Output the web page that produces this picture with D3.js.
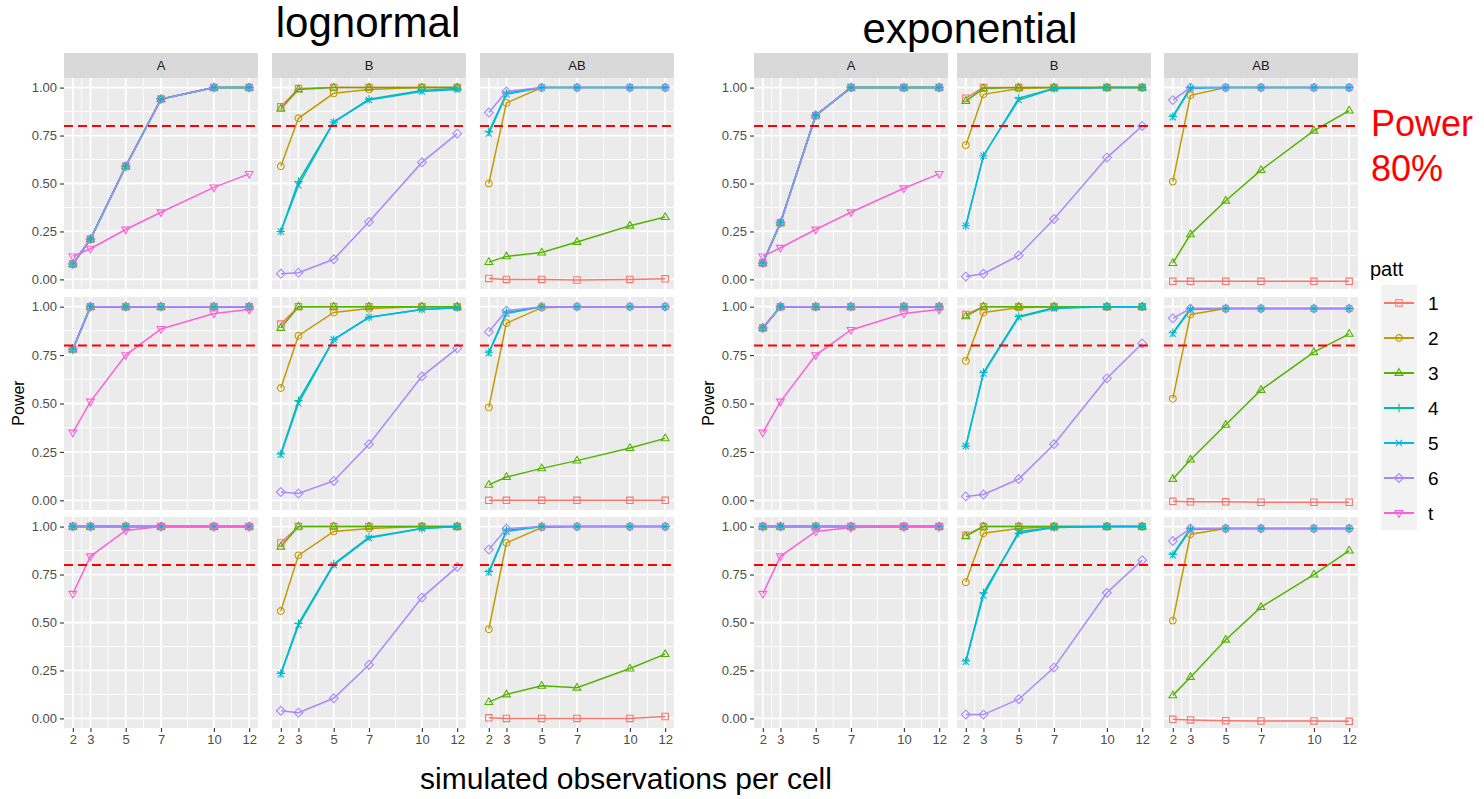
<!DOCTYPE html>
<html>
<head>
<meta charset="utf-8">
<script src="https://cdn.jsdelivr.net/npm/d3@7"></script>
<style>
body { margin: 0; background: #fff; }
text { font-family: "Liberation Sans", Arial, sans-serif; }
</style>
</head>
<body>
<div id="graphic"></div>
<script>
// x values, patterns, colours
const xValues = [2, 3, 5, 7, 10, 12];
const xMinor = [2.5, 4, 6, 8.5, 11];
const yTicks = [0, 0.25, 0.5, 0.75, 1];
const yMinor = [0.125, 0.375, 0.625, 0.875];
const patterns = ["1", "2", "3", "4", "5", "6", "t"];
const pattColors = ["#F8766D", "#C49A00", "#53B400", "#00C094", "#00B6EB", "#A58AFF", "#FB61D7"];
const pattShapes = ["square", "circle", "triangle", "plus", "cross", "diamond", "triangleDown"];
const facetCols = ["A", "B", "AB"];
const dists = ["lognormal", "exponential"];
const target = 0.8;

// ---- lognormal ----
const lnA1_all = [0.08, 0.21, 0.59, 0.94, 1.0, 1.0];
const lnA1_t = [0.12, 0.16, 0.26, 0.35, 0.48, 0.55];
const lnB1 = {
  1: [0.90, 0.995, 1, 1, 1, 1], 2: [0.59, 0.84, 0.97, 0.99, 1, 1], 3: [0.89, 0.99, 1, 1, 1, 1],
  4: [0.25, 0.51, 0.82, 0.94, 0.985, 0.995], 5: [0.25, 0.49, 0.82, 0.935, 0.98, 0.99],
  6: [0.03, 0.035, 0.105, 0.30, 0.61, 0.76]
};
const lnAB1 = {
  1: [0.005, 0, 0, -0.003, 0, 0.003], 2: [0.50, 0.92, 1, 1, 1, 1], 3: [0.09, 0.12, 0.14, 0.195, 0.28, 0.325],
  4: [0.77, 0.97, 1, 1, 1, 1], 5: [0.76, 0.965, 1, 1, 1, 1], 6: [0.87, 0.98, 1, 1, 1, 1]
};
const lnA2_all = [0.78, 1, 1, 1, 1, 1];
const lnA2_t = [0.35, 0.51, 0.75, 0.885, 0.965, 0.985];
const lnB2 = {
  1: [0.91, 1, 1, 1, 1, 1], 2: [0.58, 0.85, 0.97, 0.99, 1, 1], 3: [0.89, 1, 1, 1, 1, 1],
  4: [0.24, 0.515, 0.83, 0.945, 0.985, 0.995], 5: [0.235, 0.50, 0.83, 0.945, 0.985, 0.995],
  6: [0.043, 0.035, 0.10, 0.29, 0.64, 0.785]
};
const lnAB2 = {
  1: [0, 0, 0, 0, 0, 0], 2: [0.48, 0.915, 0.995, 1, 1, 1], 3: [0.08, 0.12, 0.165, 0.205, 0.27, 0.32],
  4: [0.765, 0.97, 1, 1, 1, 1], 5: [0.76, 0.965, 1, 1, 1, 1], 6: [0.87, 0.98, 1, 1, 1, 1]
};
const lnA3_all = [1, 1, 1, 1, 1, 1];
const lnA3_t = [0.65, 0.845, 0.98, 1, 1, 1];
const lnB3 = {
  1: [0.915, 1, 1, 1, 1, 1], 2: [0.56, 0.85, 0.975, 0.99, 1, 1], 3: [0.895, 1, 1, 1, 1, 1],
  4: [0.235, 0.495, 0.805, 0.945, 0.99, 1], 5: [0.23, 0.485, 0.80, 0.94, 0.99, 1],
  6: [0.04, 0.03, 0.105, 0.28, 0.63, 0.79]
};
const lnAB3 = {
  1: [0.003, 0, 0, 0, 0, 0.01], 2: [0.465, 0.915, 0.995, 1, 1, 1], 3: [0.085, 0.125, 0.17, 0.16, 0.26, 0.335],
  4: [0.765, 0.98, 1, 1, 1, 1], 5: [0.76, 0.975, 1, 1, 1, 1], 6: [0.88, 0.99, 1, 1, 1, 1]
};

// ---- exponential ----
const exA1_all = [0.085, 0.295, 0.855, 1, 1, 1];
const exA1_t = [0.12, 0.165, 0.26, 0.35, 0.475, 0.55];
const exB1 = {
  1: [0.945, 1, 1, 1, 1, 1], 2: [0.70, 0.965, 0.995, 1, 1, 1], 3: [0.93, 0.995, 1, 1, 1, 1],
  4: [0.28, 0.645, 0.945, 0.995, 1, 1], 5: [0.28, 0.645, 0.935, 0.995, 1, 1],
  6: [0.015, 0.03, 0.125, 0.315, 0.635, 0.80]
};
const exAB1 = {
  1: [-0.01, -0.01, -0.01, -0.01, -0.01, -0.01], 2: [0.51, 0.96, 1, 1, 1, 1], 3: [0.085, 0.235, 0.41, 0.57, 0.775, 0.88],
  4: [0.85, 1, 1, 1, 1, 1], 5: [0.845, 0.995, 1, 1, 1, 1], 6: [0.935, 1, 1, 1, 1, 1]
};
const exA2_all = [0.89, 1, 1, 1, 1, 1];
const exA2_t = [0.35, 0.51, 0.75, 0.88, 0.965, 0.985];
const exB2 = {
  1: [0.96, 1, 1, 1, 1, 1], 2: [0.72, 0.97, 0.995, 1, 1, 1], 3: [0.95, 1, 1, 1, 1, 1],
  4: [0.28, 0.66, 0.95, 0.995, 1, 1], 5: [0.28, 0.655, 0.945, 0.99, 1, 1],
  6: [0.02, 0.03, 0.11, 0.29, 0.63, 0.81]
};
const exAB2 = {
  1: [-0.005, -0.008, -0.008, -0.01, -0.01, -0.01], 2: [0.525, 0.96, 0.99, 0.99, 0.99, 0.99], 3: [0.11, 0.21, 0.39, 0.57, 0.765, 0.86],
  4: [0.865, 0.99, 0.99, 0.99, 0.99, 0.99], 5: [0.86, 0.985, 0.99, 0.99, 0.99, 0.99], 6: [0.94, 0.99, 0.99, 0.99, 0.99, 0.99]
};
const exA3_all = [1, 1, 1, 1, 1, 1];
const exA3_t = [0.65, 0.845, 0.975, 0.995, 1, 1];
const exB3 = {
  1: [0.955, 1, 1, 1, 1, 1], 2: [0.71, 0.965, 0.99, 1, 1, 1], 3: [0.95, 1, 1, 1, 1, 1],
  4: [0.30, 0.655, 0.965, 0.995, 1, 1], 5: [0.295, 0.64, 0.975, 0.995, 1, 1],
  6: [0.02, 0.02, 0.10, 0.265, 0.655, 0.825]
};
const exAB3 = {
  1: [-0.005, -0.008, -0.012, -0.013, -0.013, -0.015], 2: [0.51, 0.96, 0.99, 0.99, 0.99, 0.99], 3: [0.12, 0.215, 0.41, 0.58, 0.75, 0.875],
  4: [0.855, 0.99, 0.99, 0.99, 0.99, 0.99], 5: [0.85, 0.985, 0.99, 0.99, 0.99, 0.99], 6: [0.925, 0.99, 0.99, 0.99, 0.99, 0.99]
};

// panel A: patterns 1-6 coincide, plus t
function aPanel(all, t) {
  return {1: all, 2: all, 3: all, 4: all, 5: all, 6: all, t: t};
}
const panelData = {
  lognormal: [
    [aPanel(lnA1_all, lnA1_t), lnB1, lnAB1],
    [aPanel(lnA2_all, lnA2_t), lnB2, lnAB2],
    [aPanel(lnA3_all, lnA3_t), lnB3, lnAB3]
  ],
  exponential: [
    [aPanel(exA1_all, exA1_t), exB1, exAB1],
    [aPanel(exA2_all, exA2_t), exB2, exAB2],
    [aPanel(exA3_all, exA3_t), exB3, exAB3]
  ]
};

// layout
const W = 1484, H = 799;
const rowsY = [[78, 289], [297, 510], [517, 728]];
const stripTop = 53, stripH = 25;
const layout = {
  lognormal: {cols: [64, 272, 480], w: 194, titleX: 368, titleY: 37, ylabX: 18},
  exponential: {cols: [754, 957, 1164], w: 194, titleX: 970, titleY: 43, ylabX: 708}
};

const svg = d3.select("#graphic")
  .append("svg")
  .attr("width", W)
  .attr("height", H);

function shapePath(s) {
  switch (s) {
    case "square": return "M-3.2,-3.2H3.2V3.2H-3.2Z";
    case "circle": return "M3.4,0A3.4,3.4 0 1 1 -3.4,0A3.4,3.4 0 1 1 3.4,0Z";
    case "triangle": return "M0,-4.3L3.9,2.4L-3.9,2.4Z";
    case "plus": return "M-4.2,0H4.2M0,-4.2V4.2";
    case "cross": return "M-3.1,-3.1L3.1,3.1M-3.1,3.1L3.1,-3.1";
    case "diamond": return "M0,-4.4L4.4,0L0,4.4L-4.4,0Z";
    case "triangleDown": return "M0,4.3L3.9,-2.4L-3.9,-2.4Z";
  }
}

dists.forEach(dist => {
  const L = layout[dist];
  const g = svg.append("g").attr("class", dist);

  g.append("text")
    .attr("x", L.titleX).attr("y", L.titleY)
    .attr("text-anchor", "middle")
    .style("font-size", "42px")
    .text(dist);

  g.append("text")
    .attr("transform", `translate(${L.ylabX},${(rowsY[0][0] + rowsY[2][1]) / 2}) rotate(-90)`)
    .attr("text-anchor", "middle")
    .attr("dy", "0.35em")
    .style("font-size", "16px")
    .text("Power");

  facetCols.forEach((col, ci) => {
    const left = L.cols[ci];
    const x = d3.scaleLinear().domain([1.5, 12.5]).range([left, left + L.w]);

    // strip
    g.append("rect")
      .attr("x", left).attr("y", stripTop)
      .attr("width", L.w).attr("height", stripH)
      .attr("fill", "#D9D9D9");
    g.append("text")
      .attr("x", left + L.w / 2).attr("y", stripTop + stripH / 2)
      .attr("dy", "0.35em")
      .attr("text-anchor", "middle")
      .style("font-size", "13px")
      .attr("fill", "#1A1A1A")
      .text(col);

    rowsY.forEach((ry, ri) => {
      const y = d3.scaleLinear().domain([-0.05, 1.05]).range([ry[1], ry[0]]);
      const p = g.append("g");

      p.append("rect")
        .attr("x", left).attr("y", ry[0])
        .attr("width", L.w).attr("height", ry[1] - ry[0])
        .attr("fill", "#EBEBEB");

      // minor grid
      p.selectAll(".ymin").data(yMinor).join("line")
        .attr("x1", left).attr("x2", left + L.w)
        .attr("y1", d => y(d)).attr("y2", d => y(d))
        .attr("stroke", "#fff").attr("stroke-width", 0.9);
      p.selectAll(".xmin").data(xMinor).join("line")
        .attr("y1", ry[0]).attr("y2", ry[1])
        .attr("x1", d => x(d)).attr("x2", d => x(d))
        .attr("stroke", "#fff").attr("stroke-width", 0.9);
      // major grid
      p.selectAll(".ymaj").data(yTicks).join("line")
        .attr("x1", left).attr("x2", left + L.w)
        .attr("y1", d => y(d)).attr("y2", d => y(d))
        .attr("stroke", "#fff").attr("stroke-width", 1.8);
      p.selectAll(".xmaj").data(xValues).join("line")
        .attr("y1", ry[0]).attr("y2", ry[1])
        .attr("x1", d => x(d)).attr("x2", d => x(d))
        .attr("stroke", "#fff").attr("stroke-width", 1.8);

      // data
      const data = panelData[dist][ri][ci];
      const series = patterns
        .map((pt, i) => ({patt: pt, i: i, values: data[pt]}))
        .filter(s => s.values);

      const line = d3.line().x((d, k) => x(xValues[k])).y(d => y(d));

      p.selectAll(".series").data(series).join("path")
        .attr("d", s => line(s.values))
        .attr("fill", "none")
        .attr("stroke", s => pattColors[s.i])
        .attr("stroke-width", 1.5);

      series.forEach(s => {
        p.selectAll(null).data(s.values).join("path")
          .attr("transform", (d, k) => `translate(${x(xValues[k])},${y(d)})`)
          .attr("d", shapePath(pattShapes[s.i]))
          .attr("fill", "none")
          .attr("stroke", pattColors[s.i])
          .attr("stroke-width", 1.1);
      });

      // 80% reference line
      p.append("line")
        .attr("x1", left).attr("x2", left + L.w)
        .attr("y1", y(target)).attr("y2", y(target))
        .attr("stroke", "#FF0000")
        .attr("stroke-width", 2)
        .attr("stroke-dasharray", "9,5");

      // axes
      if (ci === 0) {
        const ax = g.append("g")
          .attr("transform", `translate(${left},0)`)
          .call(d3.axisLeft(y).tickValues(yTicks).tickFormat(d3.format(".2f")).tickSize(4).tickPadding(3));
        ax.select(".domain").remove();
        ax.selectAll(".tick line").attr("stroke", "#333333").attr("stroke-width", 1.1);
        ax.selectAll(".tick text").attr("fill", "#4D4D4D").style("font-size", "13px")
          .style("font-family", "Liberation Sans, Arial, sans-serif");
      }
      if (ri === 2) {
        const ax = g.append("g")
          .attr("transform", `translate(0,${ry[1]})`)
          .call(d3.axisBottom(x).tickValues(xValues).tickSize(4).tickPadding(3));
        ax.select(".domain").remove();
        ax.selectAll(".tick line").attr("stroke", "#333333").attr("stroke-width", 1.1);
        ax.selectAll(".tick text").attr("fill", "#4D4D4D").style("font-size", "13px")
          .style("font-family", "Liberation Sans, Arial, sans-serif");
      }
    });
  });
});

// x-axis title
svg.append("text")
  .attr("x", 626).attr("y", 789)
  .attr("text-anchor", "middle")
  .style("font-size", "30px")
  .text("simulated observations per cell");

// annotation
svg.append("text")
  .attr("x", 1371).attr("y", 136)
  .attr("fill", "#FF0000")
  .style("font-size", "36px")
  .text("Power");
svg.append("text")
  .attr("x", 1371).attr("y", 181)
  .attr("fill", "#FF0000")
  .style("font-size", "36px")
  .text("80%");

// legend
const legend = svg.append("g").attr("transform", "translate(1381,285)");
legend.append("text")
  .attr("x", -11).attr("y", -9)
  .style("font-size", "20px")
  .text("patt");
legend.append("rect")
  .attr("width", 36).attr("height", 245)
  .attr("fill", "#F2F2F2");
const key = legend.selectAll(".key").data(patterns).join("g")
  .attr("transform", (d, i) => `translate(0,${18 + i * 35})`);
key.append("line")
  .attr("x1", 3).attr("x2", 33)
  .attr("stroke", (d, i) => pattColors[i])
  .attr("stroke-width", 2);
key.append("path")
  .attr("transform", "translate(18,0)")
  .attr("d", (d, i) => shapePath(pattShapes[i]))
  .attr("fill", "none")
  .attr("stroke", (d, i) => pattColors[i])
  .attr("stroke-width", 1.1);
key.append("text")
  .attr("x", 47).attr("dy", "0.35em")
  .style("font-size", "19px")
  .text(d => d);
</script>
</body>
</html>
